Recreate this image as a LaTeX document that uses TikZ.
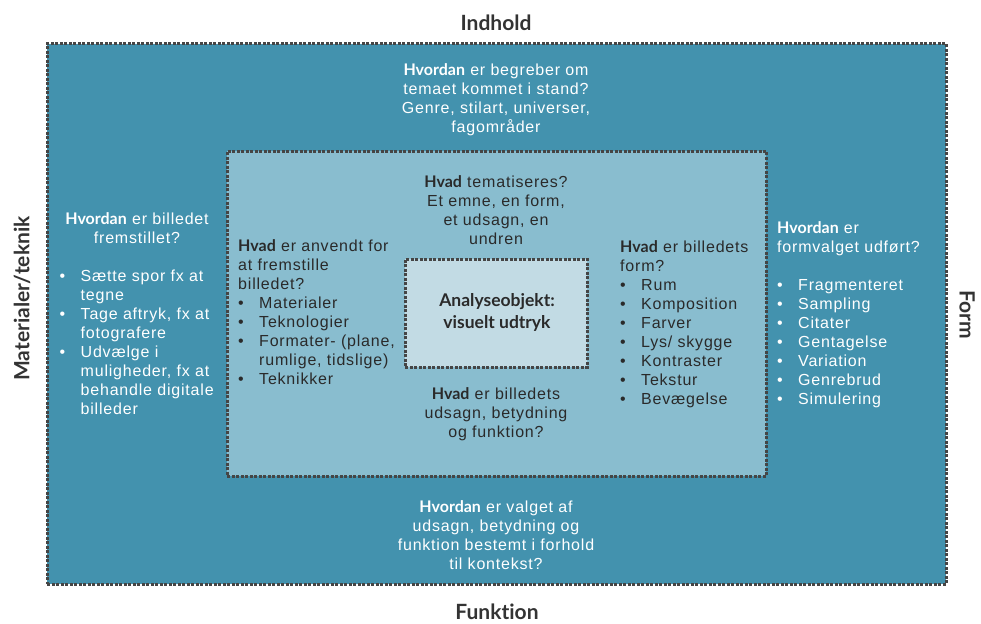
\documentclass[tikz,border=0pt]{standalone}
\usepackage{fontspec}
\setmainfont{Liberation Sans}[LetterSpace=5]
\newfontfamily\latofont{Lato}[Ligatures=NoCommon]
\usepackage{tikz}
\usetikzlibrary{positioning}
\definecolor{outerteal}{HTML}{4392AE}
\definecolor{midteal}{HTML}{89BDCF}
\definecolor{innerteal}{HTML}{C2DBE4}
\definecolor{dotgray}{HTML}{454545}
\definecolor{inkgray}{HTML}{2A2A2A}
\definecolor{labelgray}{HTML}{333333}
\tikzstyle{zone}=[draw=dotgray,line width=3pt,dash pattern=on 3pt off 1.5pt,inner sep=0pt]
\tikzstyle{sidelabel}=[font=\latofont\bfseries\fontsize{21}{25}\selectfont,text=labelgray,inner sep=0pt]
\tikzstyle{txt}=[font=\fontsize{16}{19}\selectfont,inner sep=0pt,align=center]
\tikzstyle{itemlist}=[font=\fontsize{16}{19}\selectfont,inner sep=0pt,anchor=north west]
\newcommand{\hv}[1]{{\latofont\bfseries #1}}
\newcommand{\bul}{\textbullet &}
\newcommand{\hdrow}[1]{\multicolumn{2}{@{}l@{}}{#1}\\}

\begin{document}
\begin{tikzpicture}[x=1pt,y=-1pt]
      \useasboundingbox (0,0) rectangle (981,623);
      % the three zones
      \node[zone,fill=outerteal,minimum width=899pt,minimum height=540pt] at (496.5,314) (outer) {};
      \node[zone,fill=midteal,minimum width=539pt,minimum height=325pt] at (496.5,313.5) (middle) {};
      \node[zone,fill=innerteal,minimum width=182pt,minimum height=108pt] at (496,313) (inner) {};
      % side labels
      \node[sidelabel] at (496,22.5) (indhold) {Indhold};
      \node[sidelabel] at (497,612) (funktion) {Funktion};
      \node[sidelabel,rotate=90] at (22,298.5) (materialer) {Materialer/teknik};
      \node[sidelabel,rotate=-90] at (967,315) (form) {Form};
      % centre
      \node[txt,text=inkgray,font=\latofont\bfseries\fontsize{17.5}{21.6}\selectfont] at (497,312.5) (analyse) {Analyseobjekt:\\visuelt udtryk};
      % outer zone
      \node[txt,text=white] at (496,99.5) (topq) {\hv{Hvordan} er begreber om\\temaet kommet i stand?\\Genre, stilart, universer,\\fagområder};
      \node[txt,text=white] at (496,535.4) (bottomq) {\hv{Hvordan} er valget af\\udsagn, betydning og\\funktion bestemt i forhold\\til kontekst?};
      \node[txt,text=white] at (137,227.8) (lefthdr) {\hv{Hvordan} er billedet\\fremstillet?};
      \node[itemlist,text=white] at (59.5,267.9) (leftlist) {\begin{tabular}{@{}p{21pt}@{}l@{}}
        \bul Sætte spor fx at\\ & tegne\\
        \bul Tage aftryk, fx at\\ & fotografere\\
        \bul Udvælge i\\ & muligheder, fx at\\ & behandle digitale\\ & billeder
      \end{tabular}};
      \node[itemlist,text=white] at (777,219.5) (rightlist) {\begin{tabular}{@{}p{21pt}@{}l@{}}
        \hdrow{\hv{Hvordan} er}
        \hdrow{formvalget udført?}
        \hdrow{}
        \bul Fragmenteret\\ \bul Sampling\\ \bul Citater\\ \bul Gentagelse\\
        \bul Variation\\ \bul Genrebrud\\ \bul Simulering
      \end{tabular}};
      % middle zone
      \node[txt,text=inkgray] at (496,210.3) (midtopq) {\hv{Hvad} tematiseres?\\Et emne, en form,\\et udsagn, en\\undren};
      \node[txt,text=inkgray] at (496,414.6) (midbottomq) {\hv{Hvad} er billedets\\udsagn, betydning\\og funktion?};
      \node[itemlist,text=inkgray] at (238,237.9) (midleftlist) {\begin{tabular}{@{}p{21pt}@{}l@{}}
        \hdrow{\hv{Hvad} er anvendt for}
        \hdrow{at fremstille}
        \hdrow{billedet?}
        \bul Materialer\\ \bul Teknologier\\ \bul Formater- (plane,\\ & rumlige, tidslige)\\ \bul Teknikker
      \end{tabular}};
      \node[itemlist,text=inkgray] at (620,238.9) (midrightlist) {\begin{tabular}{@{}p{21pt}@{}l@{}}
        \hdrow{\hv{Hvad} er billedets}
        \hdrow{form?}
        \bul Rum\\ \bul Komposition\\ \bul Farver\\ \bul Lys/ skygge\\
        \bul Kontraster\\ \bul Tekstur\\ \bul Bevægelse
      \end{tabular}};
\end{tikzpicture}
\end{document}
